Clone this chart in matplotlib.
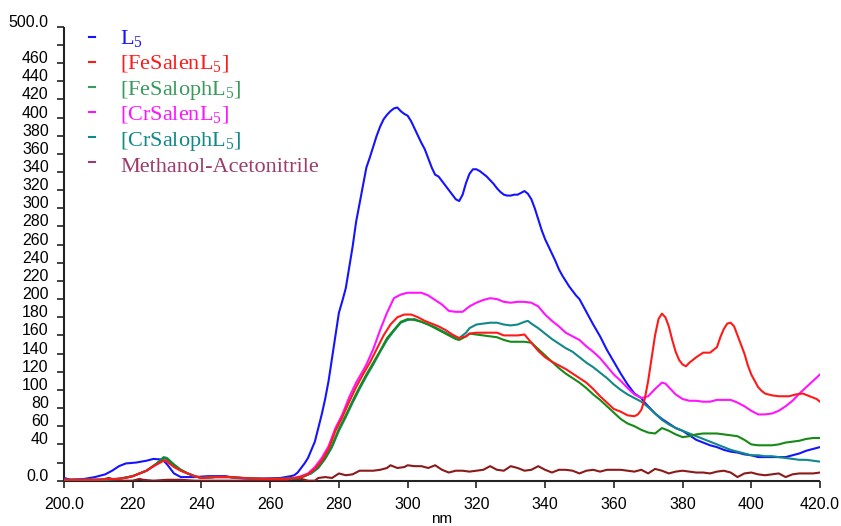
import matplotlib
matplotlib.use("Agg")
import matplotlib.pyplot as plt
from matplotlib.lines import Line2D

plt.rcParams['mathtext.fontset'] = 'custom'
plt.rcParams['mathtext.rm'] = 'Liberation Serif'

# ---- data ----
l5_wl = [200,202,206,209,212,214,216,218,221,224,226,228,229,230,231,232,234,238,242,247,250,255,263,266,267,268,269,270,271,272,273,274,275,276,277,278,279,280,281,282,283,284,285,286,287,288,289,290,291,292,293,294,295,296,297,298,299,300,301,302,303,304,305,306,307,308,309,310,311,312,313,314,315,316,317,318,319,320,321,322,323,324,325,326,327,328,329,330,331,332,333,334,335,336,337,338,339,340,341,342,343,344,345,346,347,348,349,350,352,354,356,358,360,362,364,366,368,369,370,372,374,376,378,380,382,384,386,388,390,392,394,396,398,400,402,404,406,408,410,412,414,416,418,420]
l5_abs = [3,1,2,4,7,11,16,19,20,22,24,23.5,22,18,13,8,4,4,5,5,3,2,3,5,6,9,14,19,25,34,43,58,73,90,110,135,160,185,198,212,235,258,285,305,325,345,356,368,380,390,398,403,407,410,411,407,404,402,396,388,380,372,365,355,345,337,335,330,325,320,315,310,308,315,328,338,343,343,341,338,335,331,327,322,318,315,314,314,315,315,317,319,316,310,300,288,276,266,258,250,242,233,226,220,214,209,204,200,186,172,159,144,131,118,106,96,91,86,82,74,68,63,58,55,50,45,42,39,37,34,32,31,29,28,26,26,26,26,26,28,30,33,35,37]

fesalen_wl = [200,210,215,218,220,222,224,226,228,229,230,232,234,236,238,240,244,248,252,258,264,267,269,271,273,275,277,279,281,283,285,287,289,291,293,295,297,299,301,303,305,307,309,311,313,315,317,318,320,322,324,326,328,330,332,334,336,338,340,342,344,346,348,350,352,354,356,358,360,362,364,366,367,368,369,370,371,372,373,374,375,376,377,378,379,380,381,382,384,386,388,390,391,392,393,394,395,396,397,398,399,400,401,402,403,404,406,408,411,413,415,417,419,420]
fesalen_abs = [1,1,2,3,5,8,11,16,20,22,21,15,11,8,5,3,4,4,3,2,2,3,4,7,13,22,35,55,70,87,103,117,130,145,160,172,180,183,183,180,176,173,170,166,161,157,159,162,163,163,163,163,160,160,160,161,152,143,136,131,127,123,118,113,108,101,93,86,79,76,72,71,73,78,90,110,135,160,178,184,180,170,155,142,133,128,126,130,136,141,141,147,158,167,173,174,170,160,150,140,127,117,110,103,99,96,94,93,93,95,96,93,90,87]

fesaloph_wl = [200,210,216,220,224,227,229,230,232,234,236,238,240,244,248,252,258,264,268,270,272,274,276,278,280,282,284,286,288,290,292,294,296,298,300,302,304,306,308,310,312,314,315,317,318,320,322,324,326,328,330,332,334,336,338,340,342,344,346,348,350,352,354,356,358,360,362,364,366,368,370,372,374,376,378,380,382,384,386,388,390,392,394,396,398,400,402,404,406,408,410,412,414,416,418,420]
fesaloph_abs = [1,1,2,5,11,19,25,24,17,12,8,5,3,4,4,3,2,2,3,5,9,15,25,39,57,72,88,103,117,130,143,157,166,175,178,177,175,172,168,164,160,156,155,159,162,161,160,159,158,155,153,153,153,152,145,138,131,124,118,113,108,102,95,89,82,75,68,63,60,56,53,52,58,55,51,48,49,51,52,52,52,51,50,49,45,40,39,39,39,40,42,43,44,46,47,47]

crsalen_wl = [200,210,216,220,224,227,229,230,232,234,236,238,240,244,248,252,258,264,267,269,271,273,275,277,279,281,283,285,287,288,290,292,294,296,298,300,302,304,306,308,310,312,314,316,318,320,322,324,326,328,330,332,334,336,338,340,342,344,346,348,350,352,354,356,358,360,362,364,366,368,370,372,374,375,376,378,380,382,384,386,388,390,392,394,396,398,400,402,404,406,408,410,412,414,416,418,420]
crsalen_abs = [1,1,2,5,11,18,23,22,16,11,8,5,3,4,4,3,2,2,3,5,8,15,25,38,58,73,92,108,121,128,145,166,185,201,205,207,207,207,204,199,194,187,186,186,192,196,199,201,200,197,196,197,197,196,192,183,176,170,163,159,155,148,142,135,126,117,110,102,95,91,93,101,108,107,103,95,90,88,88,87,87,89,89,89,86,82,77,73,73,74,77,82,88,96,103,110,117]

crsaloph_wl = [200,210,216,220,224,227,229,230,232,234,236,238,240,244,248,252,258,264,268,270,272,274,276,278,280,282,284,286,288,290,292,294,296,298,300,302,304,306,308,310,312,314,315,317,318,320,322,324,326,328,330,332,334,335,336,338,340,342,344,346,348,350,352,354,356,358,360,362,364,366,368,370,372,374,376,378,380,382,384,386,388,390,392,394,396,398,400,402,404,406,408,410,412,414,416,418,420]
crsaloph_abs = [1,1,2,5,11,19,26,25,18,12,8,5,3,4,4,3,2,2,3,5,8,14,24,37,55,70,86,101,115,128,142,155,165,174,177,178,175,172,169,165,161,158,157,163,168,172,173,174,174,172,171,172,175,176,173,168,162,156,151,146,142,136,130,125,119,113,106,100,95,91,87,81,74,67,62,58,55,52,49,46,43,40,37,34,32,30,28,28,27,27,26,25,24,23,23,22,21]

solvent_wl = [200,205,210,212,213,214,216,220,222,223,226,230,234,238,242,250,258,264,266,269,271,273,274,276,278,280,282,284,286,288,290,292,294,295,297,299,300,302,304,306,308,310,312,314,316,318,320,322,324,326,328,330,332,334,336,338,340,342,344,346,348,350,352,354,356,358,360,362,364,366,368,370,372,374,376,378,380,382,384,386,388,390,392,394,396,398,400,402,404,406,408,410,412,414,416,418,420]
solvent_abs = [1,0,1,2,3,2,0,0,2,1,0,1,1,0,0,0,0,0,2,2,0,0,3,4,3,8,6,7,11,11,11,12,14,17,14,15,17,16,16,14,17,12,9,11,11,10,11,12,16,12,11,16,14,11,12,16,12,9,12,12,11,8,11,12,10,12,12,12,11,10,12,8,13,11,8,10,11,10,9,9,8,10,11,9,4,8,9,7,6,7,8,4,7,8,8,8,9]

series = [
    (l5_wl, l5_abs, r'L$_5$', '#1414ff', '#1414ff'),
    (fesalen_wl, fesalen_abs, r'[FeSalenL$_5$]', '#ff1a1a', '#ff1a1a'),
    (fesaloph_wl, fesaloph_abs, r'[FeSalophL$_5$]', '#168a16', '#3a9a5c'),
    (crsalen_wl, crsalen_abs, r'[CrSalenL$_5$]', '#ff14ff', '#ff14ff'),
    (crsaloph_wl, crsaloph_abs, r'[CrSalophL$_5$]', '#128888', '#128888'),
    (solvent_wl, solvent_abs, 'Methanol-Acetonitrile', '#8b1a1a', '#9c3c6c'),
]

xticks = [200, 220, 240, 260, 280, 300, 320, 340, 360, 380, 400, 420]
xticklabels = ['200.0', '220', '240', '260', '280', '300', '320', '340', '360', '380', '400', '420.0']
yticks = list(range(0, 501, 20))
yticklabels = ['0.0', ''] + [str(v) for v in range(40, 461, 20)] + ['', '500.0']

W, H = 841, 526
fig = plt.figure(figsize=(W/100, H/100), dpi=100)
ax = fig.add_axes([64/W, (H-480.7)/H, (820-64)/W, (480.7-26.7)/H])

order = [5, 0, 3, 4, 2, 1]
for i in order:
    wl, ab, lab, c, tc = series[i]
    ax.plot(wl, ab, color=c, lw=1.5, zorder=3)

ax.set_xlim(200, 420)
ax.set_ylim(0, 500)
ax.set_xticks(xticks)
ax.set_xticklabels(xticklabels, family='Liberation Sans', fontsize=11.5)
ax.set_yticks(yticks)
ax.set_yticklabels(yticklabels, family='Liberation Sans', fontsize=11.5)
for lbl in ax.get_yticklabels():
    lbl.set_verticalalignment('baseline')
ax.tick_params(axis='both', direction='out', length=5, width=1.2, color='#222222')
ax.tick_params(axis='y', pad=6)
ax.tick_params(axis='x', pad=7)
for s in ['top', 'right']:
    ax.spines[s].set_visible(False)
for s in ['left', 'bottom']:
    ax.spines[s].set_linewidth(1.5)
    ax.spines[s].set_color('#222222')
    ax.spines[s].set_capstyle('butt')
ax.set_xlabel('nm', family='Liberation Sans', fontsize=11, labelpad=0)

# legend drawn as dash + coloured label, in figure pixel positions
for k, s in enumerate(series):
    base = 44 + 25.5 * k
    ymid = 37 + 25.0 * k
    fig.add_artist(Line2D([89/W, 95/W], [1 - ymid/H, 1 - ymid/H], color=s[4], lw=1.5,
                          transform=fig.transFigure))
    fig.text(120/W, 1 - base/H, s[2], color=s[4], family='Liberation Serif',
             fontsize=16, va='baseline', ha='left')

fig.savefig('out.png', dpi=100)
